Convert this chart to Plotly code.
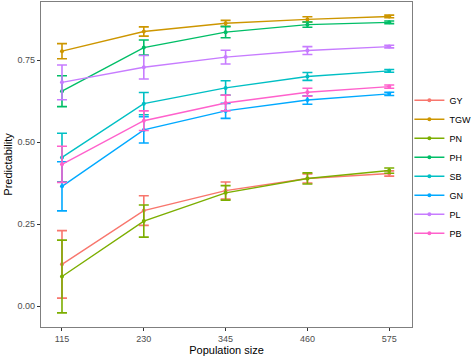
import plotly.graph_objects as go

pop_sizes = [115, 230, 345, 460, 575]
traits = ["GY", "TGW", "PN", "PH", "SB", "GN", "PL", "PB"]
colors = ["#F8766D", "#CD9600", "#7CAE00", "#00BE67", "#00BFC4", "#00A9FF", "#C77CFF", "#FF61CC"]

GY  = [0.127, 0.291, 0.352, 0.389, 0.404]
TGW = [0.777, 0.837, 0.862, 0.874, 0.883]
PN  = [0.090, 0.259, 0.345, 0.389, 0.413]
PH  = [0.655, 0.788, 0.835, 0.858, 0.865]
SB  = [0.453, 0.617, 0.665, 0.700, 0.717]
GN  = [0.365, 0.537, 0.595, 0.628, 0.647]
PL  = [0.682, 0.728, 0.759, 0.779, 0.791]
PB  = [0.432, 0.565, 0.619, 0.652, 0.669]

GY_err  = [0.103, 0.045, 0.026, 0.014, 0.008]
TGW_err = [0.023, 0.014, 0.009, 0.008, 0.004]
PN_err  = [0.111, 0.049, 0.022, 0.017, 0.008]
PH_err  = [0.047, 0.023, 0.017, 0.008, 0.004]
SB_err  = [0.074, 0.034, 0.022, 0.012, 0.004]
GN_err  = [0.075, 0.040, 0.023, 0.013, 0.005]
PL_err  = [0.053, 0.036, 0.021, 0.012, 0.004]
PB_err  = [0.055, 0.030, 0.024, 0.012, 0.005]

values = [GY, TGW, PN, PH, SB, GN, PL, PB]
errors = [GY_err, TGW_err, PN_err, PH_err, SB_err, GN_err, PL_err, PB_err]

y_ticks = [0.0, 0.25, 0.5, 0.75]
y_tick_labels = ["0.00", "0.25", "0.50", "0.75"]

fig = go.Figure()
for name, col, vals, errs in zip(traits, colors, values, errors):
    fig.add_trace(go.Scatter(
        x=pop_sizes, y=vals, name=name, mode="lines+markers",
        line=dict(color=col, width=1.4),
        marker=dict(color=col, size=4),
        error_y=dict(type="data", array=errs, visible=True, color=col,
                     thickness=1.6, width=5),
    ))

fig.update_layout(
    width=472, height=357,
    margin=dict(l=41, r=60, t=2, b=30, autoexpand=False),
    paper_bgcolor="white", plot_bgcolor="white",
    font=dict(family="Liberation Sans, Arial, sans-serif", color="#000000"),
    showlegend=True,
    legend=dict(x=0.993, xanchor="left", y=0.493, yanchor="middle",
                font=dict(size=9, color="#000000"),
                bgcolor="rgba(0,0,0,0)", itemwidth=30, tracegroupgap=0),
)
fig.update_xaxes(
    range=[85.5, 607], tickvals=pop_sizes, ticktext=[str(p) for p in pop_sizes],
    automargin=False,
    showgrid=False, zeroline=False, showline=True, linecolor="#7F7F7F", linewidth=1.2,
    mirror=True, ticks="outside", ticklen=3, tickcolor="#333333",
    tickfont=dict(size=9, color="#4D4D4D"),
    title=dict(text="Population size", font=dict(size=11, color="#000000"), standoff=2),
)
fig.update_yaxes(
    range=[-0.064, 0.927], tickvals=y_ticks, ticktext=y_tick_labels,
    automargin=False,
    showgrid=False, zeroline=False, showline=True, linecolor="#7F7F7F", linewidth=1.2,
    mirror=True, ticks="outside", ticklen=3, tickcolor="#333333",
    tickfont=dict(size=9, color="#4D4D4D"),
    title=dict(text="Predictability", font=dict(size=11, color="#000000"), standoff=2),
)

fig.write_html("out.html", config={"displayModeBar": False},
               post_script="document.body.style.margin='0';document.body.style.padding='0';")
